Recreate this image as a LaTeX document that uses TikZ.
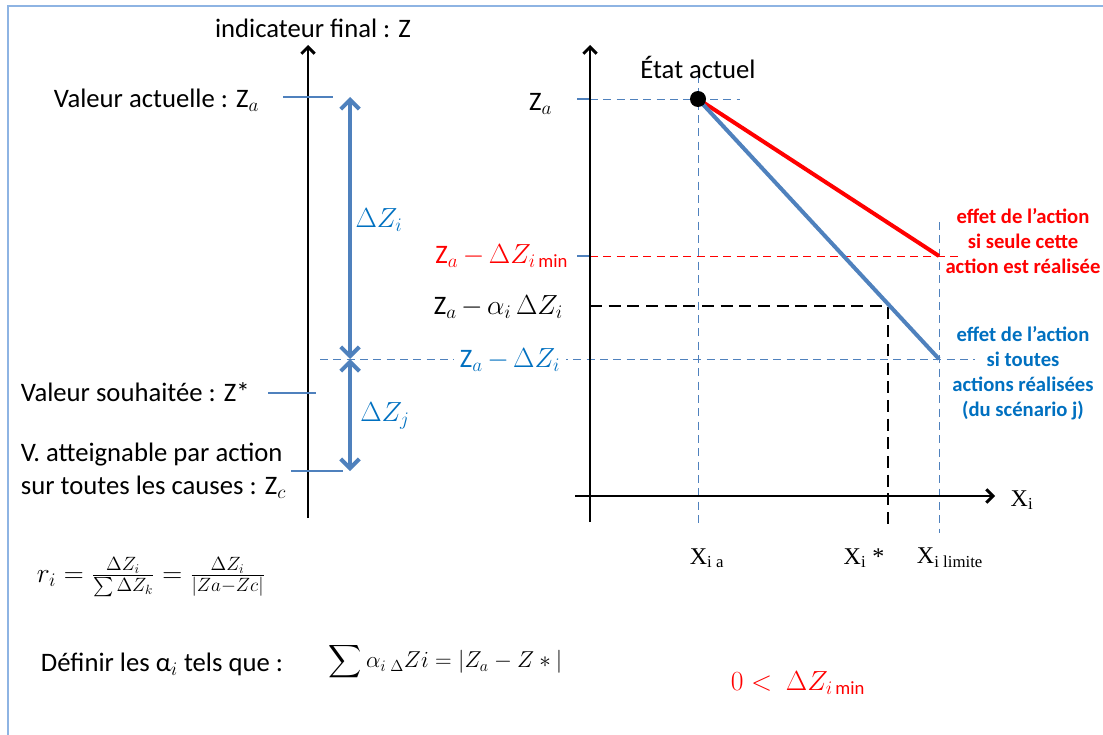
\documentclass[tikz,border=0pt]{standalone}
\usepackage{amsmath}
\usepackage{exscale}
\usepackage{fontspec}
\setmainfont{Carlito}
\newfontfamily\timesfont{Liberation Serif}
\usetikzlibrary{arrows.meta,positioning}
\definecolor{frameblue}{RGB}{142,180,227}
\definecolor{lineblue}{RGB}{79,129,189}
\definecolor{textblue}{RGB}{0,112,192}

\begin{document}
\begin{tikzpicture}[
  x=0.75pt,y=-0.75pt,
  every node/.style={font=\fontsize{20}{24.75}\selectfont,inner sep=2pt},
  axis/.style={line width=2.2pt,-{Straight Barb[length=5pt,width=10pt]}},
  level/.style={draw=lineblue,line width=3pt,
    {Straight Barb[length=7pt,width=14pt]}-{Straight Barb[length=7pt,width=14pt]}},
  tickline/.style={draw=lineblue,line width=0.8pt},
  guide/.style={draw=lineblue,line width=0.7pt,dash pattern=on 6pt off 4pt},
  effect/.style={font=\fontsize{15.5}{18.75}\selectfont\bfseries,align=center},
  xlabel/.style={font=\fontsize{18}{22}\selectfont\timesfont}
]
  \useasboundingbox (0,0) rectangle (1103,735);
  \draw[frameblue,line width=1.5pt] (8,735) -- (8,6) -- (1103,6);

  % left scale
  \coordinate (zbot) at (308,518);
  \coordinate (ztop) at (308,45);
  \draw[axis] (zbot) -- (ztop);
  \node (zname) at (313,28) {indicateur final : Z};

  \node[anchor=east] (vact) at (262,100) {Valeur actuelle : Z$_a$};
  \node[anchor=west] (vsouh) at (18,392) {Valeur souhaitée : Z*};
  \node[anchor=west,align=left] (vatt) at (18,471) {V. atteignable par action\\sur toutes les causes : Z$_c$};
  \draw[tickline] (283,97) -- (333,97);
  \draw[tickline] (268,393) -- (316,393);
  \draw[tickline] (291,471) -- (343,471);

  \coordinate (lza) at (350,97);
  \coordinate (lzi) at (350,359);
  \coordinate (lzc) at (350,471);
  \draw[level] (lza) -- (lzi);
  \draw[level] (lzi) -- (lzc);
  \node[textblue] (dzi) at (379,220) {$\Delta Z_i$};
  \node[textblue] (dzj) at (385,416) {$\Delta Z_j$};

  % formulas
  \node[anchor=west] (ratio) at (34,577) {$r_i = \frac{\Delta Z_i}{\sum \Delta Z_k} = \frac{\Delta Z_i}{|Za-Zc|}$};
  \node[anchor=west] (defn) at (38,664) {Définir les α$_i$ tels que :};
  \node[anchor=west,font=\fontsize{18}{22}\selectfont] (sumeq) at (326,662) {$\displaystyle\sum \alpha_i\,{}_{\Delta}Zi = |Z_a - Z\ast|$};
  \node[red] (pos) at (798,683) {$0 <\ \Delta Z_{i\,\textrm{min}}$};

  % right chart
  \coordinate (cur) at (698,99);
  \coordinate (limred) at (939,256);
  \coordinate (limblue) at (939,359);
  \coordinate (star) at (888,306);

  \draw[tickline] (577,99) -- (590,99);
  \draw[tickline] (577,256) -- (590,256);
  \draw[guide] (590,99) -- (740,99);
  \draw[guide] (698,75) -- (698,528);
  \draw[guide] (939,222) -- (939,533);
  \draw[guide] (320,359) -- (975,359);
  \draw[red,line width=0.7pt,dash pattern=on 6pt off 4pt] (590,256) -- (962,256);
  \draw[line width=1.8pt,dash pattern=on 9pt off 5pt] (590,306) -- (star) -- (888,527);

  \draw[axis] (590,522) -- (590,45);
  \draw[axis] (575,496) -- (995,496);

  \draw[red,line width=3pt] (cur) -- (limred);
  \draw[lineblue,line width=3pt] (cur) -- (limblue);
  \node[circle,fill,inner sep=0pt,minimum size=12pt] (dot) at (cur) {};
  \node (etat) at (698,67) {État actuel};

  \node[anchor=east] (lza2) at (555,104) {Z$_a$};
  \node[anchor=east,red] (lmin) at (571,256) {Z$_a$\,$-$\,$\Delta Z_{i\,\textrm{min}}$};
  \node[anchor=east] (lalpha) at (566,307) {Z$_a$\,$-$\,$\alpha_i\,\Delta Z_i$};
  \node[textblue,fill=white,inner sep=4pt] (ldz) at (510,360) {Z$_a$\,$-$\,$\Delta Z_i$};

  \node[effect,red] (effseul) at (1023,241) {effet de l’action\\si seule cette\\action est réalisée};
  \node[effect,textblue] (efftout) at (1023,373) {effet de l’action\\si toutes\\actions réalisées\\(du scénario j)};

  \node[xlabel] (xi) at (1022,500) {X\textsubscript{i}};
  \node[xlabel] (xia) at (707,558) {X\textsubscript{i a}};
  \node[xlabel] (xis) at (864,558) {X\textsubscript{i} *};
  \node[xlabel] (xil) at (950,558) {X\textsubscript{i limite}};
\end{tikzpicture}
\end{document}
